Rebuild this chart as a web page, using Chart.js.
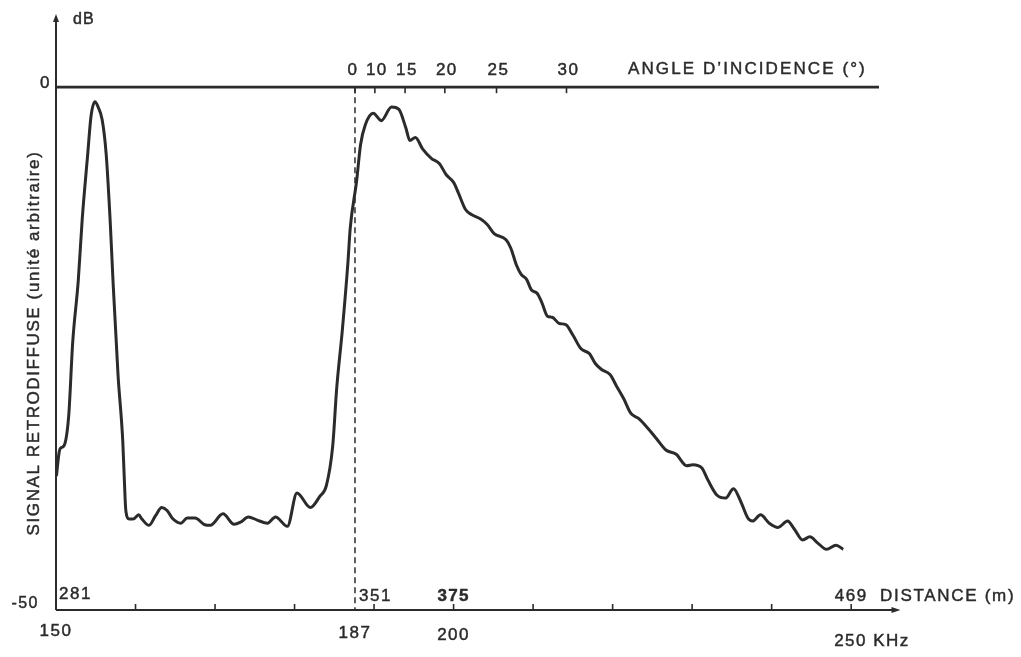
<!DOCTYPE html>
<html>
<head>
<meta charset="utf-8">
<script src="https://cdn.jsdelivr.net/npm/chart.js@4/dist/chart.umd.min.js"></script>
<style>
  html, body { margin: 0; padding: 0; background: #ffffff; }
  #wrap { width: 1021px; height: 657px; }
</style>
</head>
<body>
<div id="wrap"><canvas id="c" width="1021" height="657"></canvas></div>
<script>
// ---- Data ----
// frequency axis (kHz) of each sample of the backscattered signal
const freqKHz = [
  150.05,150.4,150.6,151.0,151.6,152.1,152.8,153.3,154.0,154.4,
  154.9,155.3,155.8,156.3,156.8,157.2,157.8,158.4,158.7,158.8,
  159.2,159.7,160.4,160.8,161.7,162.5,163.3,164.0,164.6,165.7,
  166.5,167.5,168.6,169.4,171.0,172.4,173.2,174.2,175.3,176.6,
  177.6,179.1,180.3,182.0,183.2,184.0,184.8,185.3,186.0,186.7,
  187.0,187.8,188.3,188.9,189.9,190.9,192.2,193.1,194.0,194.5,
  195.2,196.1,197.2,198.2,199.1,200.0,200.6,201.5,202.3,203.4,
  204.2,205.1,206.6,207.2,207.9,208.5,209.2,209.8,210.5,211.1,
  211.8,212.4,213.3,214.1,215.0,216.0,217.1,217.8,218.6,219.7,
  220.5,221.4,222.3,223.3,224.4,225.5,226.7,228.0,229.3,230.1,
  231.2,232.0,233.1,234.2,235.2,236.1,237.0,237.6,238.6,239.7,
  240.8,242.0,242.8,243.9,244.8,245.8,246.9,248.1,249.0
];
// backscattered signal (dB)
const signalDb = [
  -37.2,-34.9,-34.5,-34.3,-31.4,-24.4,-18.5,-12.6,-6.3,-2.8,
  -1.4,-1.9,-3.1,-6.3,-12.6,-19.0,-27.5,-33.9,-39.5,-40.6,
  -41.3,-41.3,-40.9,-41.3,-41.9,-41.0,-40.2,-40.5,-41.2,-41.7,
  -41.2,-41.2,-41.8,-41.9,-40.8,-41.8,-41.6,-41.1,-41.4,-41.7,
  -41.1,-42.0,-38.8,-40.2,-39.1,-38.1,-34.3,-28.8,-23.3,-16.9,
  -13.5,-9.0,-5.5,-3.6,-2.5,-3.2,-1.9,-2.1,-3.9,-5.1,
  -4.8,-5.9,-6.8,-7.3,-8.4,-9.1,-10.1,-11.7,-12.2,-12.6,
  -13.1,-14.0,-14.6,-15.4,-17.0,-17.9,-18.4,-19.4,-19.7,-20.6,
  -21.9,-22.0,-22.6,-22.7,-23.7,-25.0,-25.5,-26.4,-27.0,-27.5,
  -28.6,-29.8,-31.2,-31.7,-32.6,-33.6,-34.7,-35.1,-36.2,-36.1,
  -36.4,-37.6,-39.0,-39.3,-38.4,-39.6,-41.2,-41.5,-40.9,-41.7,
  -42.1,-41.5,-42.2,-43.3,-43.0,-43.6,-44.2,-43.8,-44.2
];
// bottom axis tick marks (kHz)
const freqTicks = [150,160,170,180,190,200,210,220,230,240,250];
// frequency labels under the bottom axis
const freqLabelKHz = [150, 187.6, 200, 250];
const freqLabelText = ["150", "187", "200", "250 KHz"];
// distance labels above the bottom axis (m), at the same frequencies
const distanceText = ["281", "351", "375", "469"];
// incidence angle tick labels on the 0 dB axis, and where they fall (kHz)
const angleText = ["0", "10", "15", "20", "25", "30"];
const angleKHz = [187.6, 190.1, 193.9, 198.9, 205.4, 214.2];
// y axis labels
const dbTickValues = [0, -50];
const dbTickText = ["0", "-50"];

const INK = '#2b2b2b';
const FONT = '"Liberation Sans", Arial, Helvetica, sans-serif';

const inkPlugin = {
  id: 'ink',
  beforeDatasetsDraw(chart) {
    const { ctx, scales: { x, y } } = chart;
    const X = v => x.getPixelForValue(v), Y = v => y.getPixelForValue(v);
    ctx.save();
    ctx.strokeStyle = INK; ctx.fillStyle = INK; ctx.lineCap = 'butt';
    // vertical dB axis with arrow
    const x0 = X(150);
    ctx.lineWidth = 2;
    ctx.beginPath(); ctx.moveTo(x0, Y(-50)); ctx.lineTo(x0, y.top + 6); ctx.stroke();
    ctx.beginPath(); ctx.moveTo(x0 - 3, y.top + 8); ctx.lineTo(x0, y.top); ctx.lineTo(x0 + 3, y.top + 8); ctx.closePath(); ctx.fill();
    // 0 dB axis (incidence angle axis)
    ctx.lineWidth = 2.8;
    ctx.beginPath(); ctx.moveTo(x0, Y(0)); ctx.lineTo(x.right, Y(0)); ctx.stroke();
    // bottom (frequency / distance) axis with arrow
    ctx.lineWidth = 2.2;
    const xEnd = X(256.2);
    ctx.beginPath(); ctx.moveTo(x0, Y(-50)); ctx.lineTo(xEnd - 6, Y(-50)); ctx.stroke();
    ctx.beginPath(); ctx.moveTo(xEnd - 9, Y(-50) - 3); ctx.lineTo(xEnd, Y(-50)); ctx.lineTo(xEnd - 9, Y(-50) + 3); ctx.closePath(); ctx.fill();
    // bottom ticks (pointing up)
    ctx.lineWidth = 1.6;
    freqTicks.forEach(v => {
      if (v === 150) return;
      ctx.beginPath(); ctx.moveTo(X(v), Y(-50)); ctx.lineTo(X(v), Y(-50) - 6); ctx.stroke();
    });
    // angle ticks (pointing down)
    angleKHz.forEach(v => {
      ctx.beginPath(); ctx.moveTo(X(v), Y(0)); ctx.lineTo(X(v), Y(0) + 6); ctx.stroke();
    });
    // dashed line at normal incidence
    ctx.lineWidth = 1.5;
    ctx.setLineDash([6, 4]);
    ctx.beginPath(); ctx.moveTo(X(angleKHz[0]), Y(0)); ctx.lineTo(X(angleKHz[0]), Y(-50)); ctx.stroke();
    ctx.restore();
  },
  afterDraw(chart) {
    const { ctx, scales: { x, y } } = chart;
    const X = v => x.getPixelForValue(v), Y = v => y.getPixelForValue(v);
    ctx.save();
    ctx.fillStyle = INK;
    ctx.strokeStyle = INK;
    ctx.lineWidth = 0.45;
    ctx.textBaseline = 'middle';
    const txt = (s, px, py, align, size, weight, spacing) => {
      ctx.font = (weight || 'normal') + ' ' + (size || 17) + 'px ' + FONT;
      ctx.letterSpacing = (spacing === undefined ? 1.5 : spacing) + 'px';
      ctx.textAlign = align || 'center';
      ctx.fillText(s, px, py);
      ctx.strokeText(s, px, py);
    };
    const x0 = X(150);
    // dB unit and y ticks
    txt('dB', x0 + 17, 20, 'left', 16, 'normal', 1);
    txt(dbTickText[0], x0 - 5, Y(dbTickValues[0]) - 4, 'right');
    txt(dbTickText[1], x0 - 17, Y(dbTickValues[1]) - 6, 'right', 16);
    // angle labels
    angleText.forEach((s, i) => txt(s, X(angleKHz[i]) + (i === 0 ? -2 : 2), Y(0) - 17, 'center'));
    txt("ANGLE D\u2019INCIDENCE (\u00b0)", 628, Y(0) - 18, 'left', 17, 'normal', 2.1);
    // distance labels
    const yd = Y(-50) - 14;
    txt(distanceText[0], x0 + 3, yd - 2, 'left');
    txt(distanceText[1], X(freqLabelKHz[1]) + 4, yd, 'left');
    txt(distanceText[2], X(freqLabelKHz[2]), yd, 'center', 17, 'bold', 1.2);
    txt(distanceText[3], X(freqLabelKHz[3]), yd, 'center');
    txt('DISTANCE (m)', 880, yd, 'left', 17, 'normal', 1.7);
    // frequency labels
    const yf = Y(-50) + 23;
    txt(freqLabelText[0], X(freqLabelKHz[0]), yf - 2, 'center');
    txt(freqLabelText[1], X(freqLabelKHz[1]), yf, 'center');
    txt(freqLabelText[2], X(freqLabelKHz[2]), yf + 2, 'center');
    txt(freqLabelText[3], X(freqLabelKHz[3]) - 17, yf + 8, 'left');
    // y axis title
    ctx.save();
    ctx.translate(34, 343);
    ctx.rotate(-Math.PI / 2);
    txt('SIGNAL RETRODIFFUSE (unit\u00e9 arbitraire)', 0, 0, 'center', 17, 'normal', 1.6);
    ctx.restore();
    ctx.restore();
  }
};

const whiteBg = {
  id: 'whiteBg',
  beforeDraw(chart) {
    const { ctx, width, height } = chart;
    ctx.save(); ctx.fillStyle = '#ffffff'; ctx.fillRect(0, 0, width, height); ctx.restore();
  }
};

new Chart(document.getElementById('c'), {
  type: 'line',
  data: {
    datasets: [{
      data: freqKHz.map((f, i) => ({ x: f, y: signalDb[i] })),
      borderColor: INK,
      borderWidth: 3,
      pointRadius: 0,
      fill: false,
      cubicInterpolationMode: 'monotone'
    }]
  },
  options: {
    responsive: false,
    devicePixelRatio: 1,
    animation: false,
    layout: { padding: { left: 56, right: 142, top: 14, bottom: 47 } },
    plugins: { legend: { display: false }, tooltip: { enabled: false } },
    scales: {
      x: { type: 'linear', min: 150, max: 253.5, display: false },
      y: { type: 'linear', min: -50, max: 7, display: false }
    }
  },
  plugins: [whiteBg, inkPlugin]
});
</script>
</body>
</html>
